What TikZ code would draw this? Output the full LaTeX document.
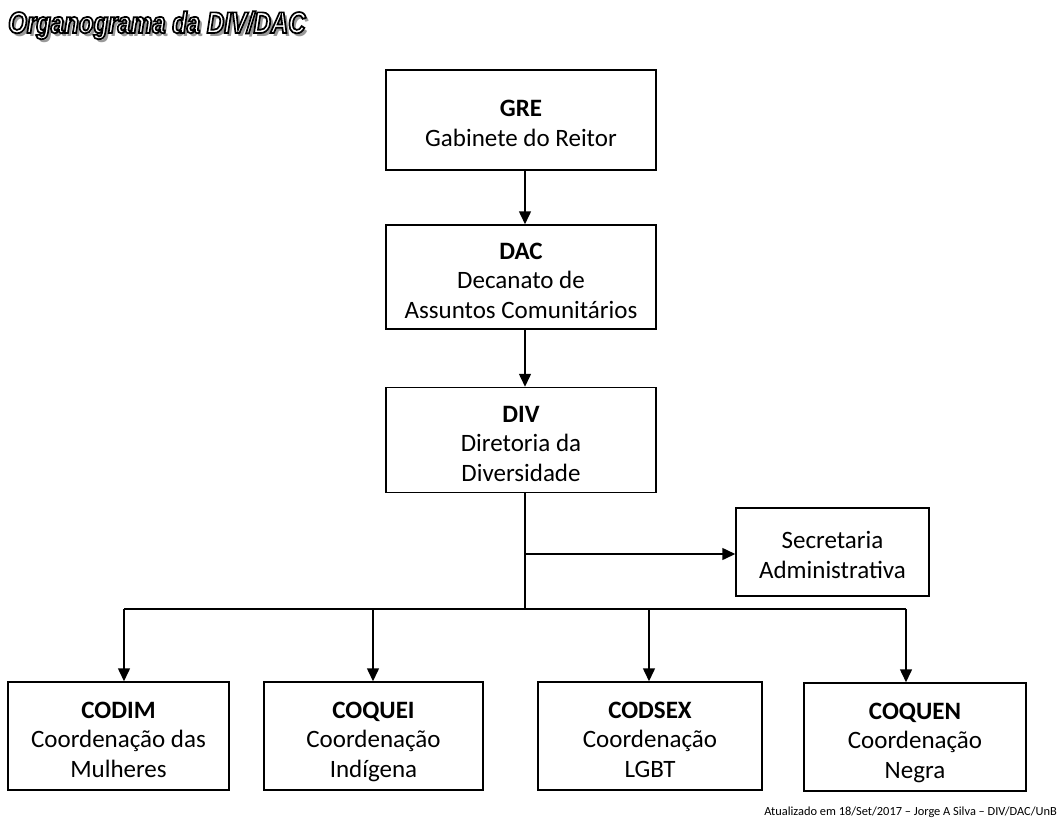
\documentclass[tikz,border=0pt]{standalone}
\usepackage{fontspec}
\setmainfont{Carlito}
\newfontfamily\titlefont[FakeStretch=0.8]{Liberation Sans}
\usetikzlibrary{arrows.meta}
\newcommand\orgtitle{Organograma da DIV/DAC}
\newcommand\topstrut{\rule{0pt}{31pt}}
\newcommand\botstrut{\rule[-8pt]{0pt}{8pt}}
\tikzset{
  orgbox/.style={draw, line width=1.5pt, align=flush center, inner sep=0pt,
    text width=#1, minimum width=#1,
    font=\fontsize{25}{29.5}\selectfont,
    execute at begin node=\topstrut, execute at end node=\botstrut},
  arr/.style={line width=1.5pt, -{Triangle[width=12pt,length=13pt]}},
  ln/.style={line width=1.5pt},
  ttl/.style={anchor=base west, inner sep=0pt, font=\titlefont\bfseries\itshape\fontsize{30}{32}\selectfont}
}
\begin{document}
\begin{tikzpicture}[x=1pt,y=-1pt]
\useasboundingbox (0,0) rectangle (1060,828);
% title with shadow and outline
\node[ttl, text=black!40] (tshadow) at (11,36) {\orgtitle};
\node[ttl, text=white] (title) at (8,33)
  {\special{pdf:literal 2 Tr 0 0 0 RG 1.7 w}\orgtitle\special{pdf:literal 0 Tr}};
% boxes
\node[orgbox=270, minimum height=100] (gre) at (521,120)
  {\textbf{GRE}\\Gabinete do Reitor};
\node[orgbox=270, minimum height=104] (dac) at (521,277)
  {\textbf{DAC}\\Decanato de\\Assuntos Comunitários};
\node[orgbox=270, minimum height=105] (div) at (521,440)
  {\textbf{DIV}\\Diretoria da\\Diversidade};
\node[orgbox=193, minimum height=88] (sec) at (832.5,552)
  {Secretaria\\Administrativa};
\node[orgbox=221, minimum height=108] (codim) at (118.5,736)
  {\textbf{CODIM}\\Coordenação das\\Mulheres};
\node[orgbox=219, minimum height=108] (coquei) at (373.5,736)
  {\textbf{COQUEI}\\Coordenação\\Indígena};
\node[orgbox=224, minimum height=108] (codsex) at (650,736)
  {\textbf{CODSEX}\\Coordenação\\LGBT};
\node[orgbox=222, minimum height=108] (coquen) at (915,737)
  {\textbf{COQUEN}\\Coordenação\\Negra};
% connector points
\coordinate (trunk) at (525,0);
\coordinate (split) at (525,554);
\coordinate (bar) at (525,609);
\coordinate (b1) at (124,609);
\coordinate (b2) at (373,609);
\coordinate (b3) at (649,609);
\coordinate (b4) at (906,609);
% connectors
\draw[arr] (gre.south -| trunk) -- (dac.north -| trunk);
\draw[arr] (dac.south -| trunk) -- (div.north -| trunk);
\draw[ln] (div.south -| trunk) -- (bar);
\draw[arr] (split) -- (sec.west |- split);
\draw[ln] (b1) -- (b4);
\draw[arr] (b1) -- (b1 |- codim.north);
\draw[arr] (b2) -- (b2 |- coquei.north);
\draw[arr] (b3) -- (b3 |- codsex.north);
\draw[arr] (b4) -- (b4 |- coquen.north);
% footer
\node[anchor=east, inner sep=0pt, font=\fontsize{12.4}{14}\selectfont] (foot) at (1057,812)
  {Atualizado em 18/Set/2017 – Jorge A Silva – DIV/DAC/UnB};
\end{tikzpicture}
\end{document}
